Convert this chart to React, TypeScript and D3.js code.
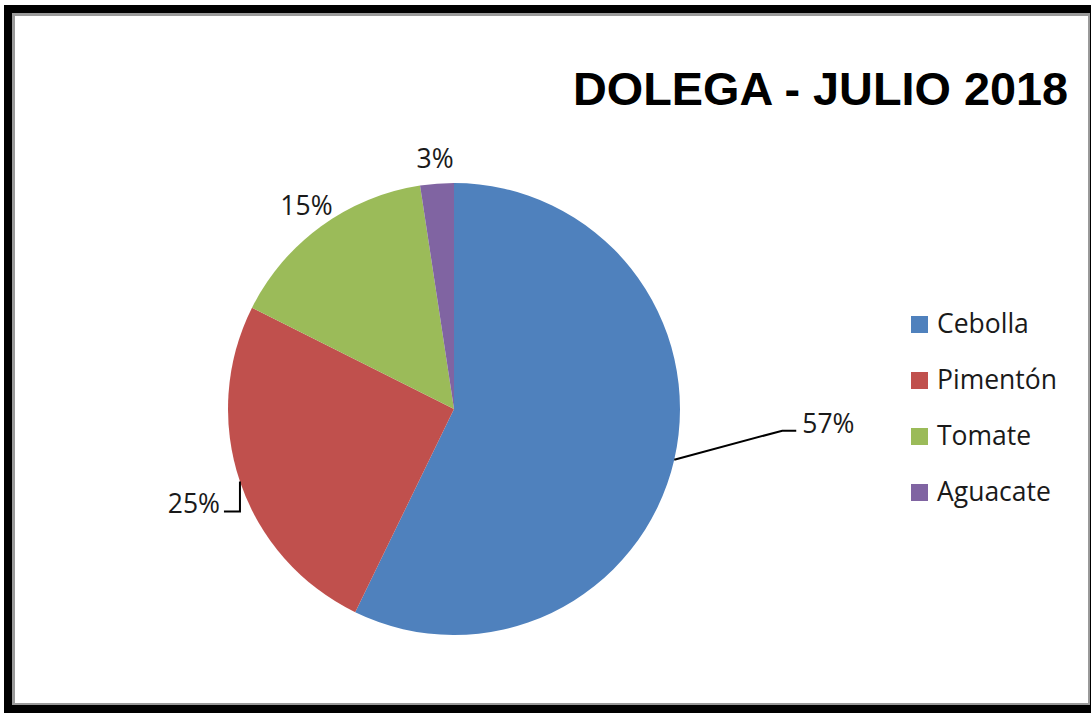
import React from "react";
import * as d3 from "d3";

const categories = ["Cebolla", "Pimentón", "Tomate", "Aguacate"];
const values = [57.2, 25.2, 15.2, 2.4];
const pctLabels = ["57%", "25%", "15%", "3%"];
const colors = ["#4F81BD", "#C0504D", "#9BBB59", "#8064A2"];
const title = "DOLEGA - JULIO 2018";

const W = 1091;
const H = 713;
const cx = 454;
const cy = 409;
const R = 226;
const FONT = "'Open Sans', 'Liberation Sans', sans-serif";
const FS = 26.5;

export default function App() {
  const pie = d3.pie<number>().sort(null).value((d) => d)(values);
  const arc = d3.arc<d3.PieArcDatum<number>>().innerRadius(0).outerRadius(R);

  const polar = (a: number, r: number): [number, number] => [Math.sin(a) * r, -Math.cos(a) * r];

  const labels = pie.map((p, i) => {
    const mid = (p.startAngle + p.endAngle) / 2;
    const edge = polar(mid, R);
    if (i === 0) {
      const elbow: [number, number] = [edge[0] + 108, edge[1] - 29];
      const end: [number, number] = [elbow[0] + 14, elbow[1]];
      return { line: [edge, elbow, end], x: end[0] + 6, y: end[1] + 2, anchor: "start" };
    }
    if (i === 1) {
      const elbow: [number, number] = [edge[0], edge[1] + 30];
      const end: [number, number] = [elbow[0] - 16, elbow[1]];
      return { line: [edge, elbow, end], x: end[0] - 4, y: end[1] + 1, anchor: "end" };
    }
    const pos = polar(mid, R + 25);
    return { line: null, x: pos[0], y: pos[1] + 9, anchor: "middle" };
  });

  const legendX = 911;
  const legendY0 = 324;
  const legendStep = 56;

  return (
    <svg width={W} height={H} style={{ position: "absolute", left: 0, top: 0, background: "#fff" }}>
      <rect x={4} y={5} width={W - 4} height={H - 5} fill="#000" />
      <rect x={12} y={13} width={1078} height={692} fill="#9a9a9a" />
      <rect x={15} y={16} width={1073} height={687} fill="#fff" />
      <text
        x={1068}
        y={105}
        textAnchor="end"
        fontFamily="'Liberation Sans', Arial, sans-serif"
        fontWeight="bold"
        fontSize={46}
        fill="#000"
        textLength={495}
        lengthAdjust="spacingAndGlyphs"
      >
        {title}
      </text>
      <g transform={`translate(${cx},${cy})`}>
        {pie.map((p, i) => (
          <path key={i} d={arc(p) || ""} fill={colors[i]} />
        ))}
        {labels.map((l, i) => (
          <g key={i}>
            {l.line && (
              <polyline
                points={l.line.map((q) => q.join(",")).join(" ")}
                fill="none"
                stroke="#000"
                strokeWidth={2}
              />
            )}
            <text x={l.x} y={l.y} textAnchor={l.anchor as any} fontFamily={FONT} fontSize={FS} fill="#1a1a1a">
              {pctLabels[i]}
            </text>
          </g>
        ))}
      </g>
      {categories.map((c, i) => (
        <g key={c} transform={`translate(${legendX},${legendY0 + i * legendStep})`}>
          <rect x={0} y={-8} width={17} height={17} fill={colors[i]} />
          <text x={26} y={9} fontFamily={FONT} fontSize={FS} fill="#1a1a1a">
            {c}
          </text>
        </g>
      ))}
    </svg>
  );
}
